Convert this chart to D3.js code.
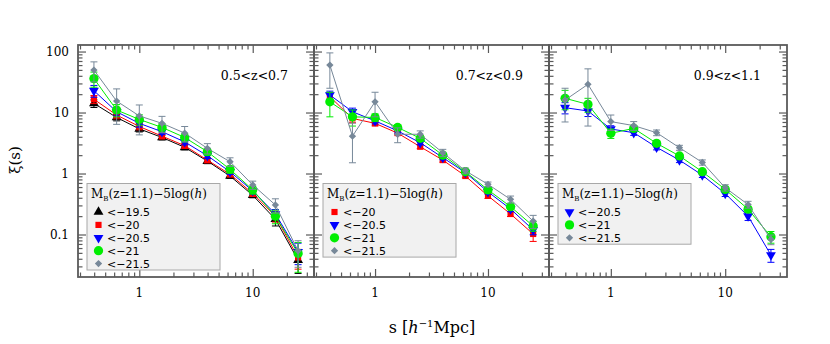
<!DOCTYPE html>
<html>
<head>
<meta charset="utf-8">
<script src="https://cdn.jsdelivr.net/npm/d3@7"></script>
<style>
  body { margin: 0; background: #fff; }
  svg { display: block; }
</style>
</head>
<body>
<div id="chart"></div>
<script>
// separations (h^-1 Mpc)
const sVals = [0.398, 0.631, 1.0, 1.585, 2.512, 3.981, 6.31, 10.0, 15.85, 25.12];

// 0.5<z<0.7
const p1Black = [14.1, 8.3, 5.4, 3.9, 2.69, 1.6, 0.91, 0.44, 0.178, 0.038];
const p1BlackErr = [2.0, 1.0, 0.6, 0.35, 0.25, 0.15, 0.08, 0.04, 0.04, 0.015];
const p1Red = [16.5, 9.1, 5.9, 4.1, 2.86, 1.66, 0.97, 0.47, 0.2, 0.042];
const p1RedErr = [2.5, 1.2, 0.7, 0.4, 0.28, 0.16, 0.09, 0.05, 0.04, 0.015];
const p1Blue = [22.8, 10.3, 6.65, 4.85, 3.3, 1.96, 1.07, 0.52, 0.217, 0.052];
const p1BlueErr = [5, 1.5, 0.9, 0.5, 0.35, 0.2, 0.1, 0.06, 0.04, 0.02];
const p1Green = [36, 11, 7.7, 5.7, 3.9, 2.28, 1.17, 0.54, 0.2, 0.049];
const p1GreenErr = [10, 2.5, 1.5, 0.9, 0.6, 0.3, 0.15, 0.08, 0.05, 0.025];
const p1Grey = [49.7, 15.4, 8.8, 6.65, 4.6, 2.59, 1.56, 0.65, 0.305, 0.054];
const p1GreyErr = [18, 9, 4.5, 2.0, 1.3, 0.5, 0.25, 0.1, 0.08, 0.025];

// 0.7<z<0.9
const p2Red = [18.2, 8.0, 6.65, 4.6, 2.75, 1.66, 0.91, 0.43, 0.217, 0.102];
const p2RedErr = [3, 1.2, 0.6, 0.3, 0.2, 0.12, 0.06, 0.04, 0.02, 0.025];
const p2Blue = [19.4, 10.3, 7.3, 5.0, 3.2, 1.82, 1.04, 0.50, 0.262, 0.119];
const p2BlueErr = [3, 1.5, 0.8, 0.4, 0.25, 0.14, 0.07, 0.04, 0.025, 0.02];
const p2Green = [15, 8.5, 8.3, 5.7, 3.78, 2.0, 1.07, 0.54, 0.286, 0.138];
const p2GreenErr = [6.5, 2.5, 1.2, 0.6, 0.35, 0.18, 0.09, 0.05, 0.03, 0.025];
const p2Grey = [60, 4.1, 15, 4.4, 4.4, 2.19, 1.11, 0.665, 0.377, 0.166];
const p2GreyErr = [35, 2.6, 6.5, 1.2, 0.6, 0.3, 0.12, 0.06, 0.05, 0.04];

// 0.9<z<1.1
const p3Blue = [12, 10.6, 5.37, 4.67, 2.69, 1.66, 0.94, 0.47, 0.20, 0.046];
const p3BlueErr = [2.5, 2, 0.7, 0.45, 0.25, 0.15, 0.08, 0.05, 0.03, 0.011];
const p3Green = [17.1, 13.6, 4.56, 5.5, 3.13, 1.94, 1.07, 0.55, 0.26, 0.092];
const p3GreenErr = [6, 3.5, 0.8, 0.6, 0.35, 0.18, 0.1, 0.05, 0.03, 0.02];
const p3Grey = [16, 29, 7.1, 6.1, 4.67, 2.65, 1.52, 0.585, 0.31, 0.083];
const p3GreyErr = [9, 23, 2, 1, 0.5, 0.25, 0.15, 0.07, 0.04, 0.015];

const panelTitles = ["0.5<z<0.7", "0.7<z<0.9", "0.9<z<1.1"];
const yTickLabels = ["0.1", "1", "10", "100"];
const xTickLabels = ["1", "10"];

const styles = {
  "<\u221219.5": { color: "#000000", shape: "tri" },
  "<\u221220":   { color: "#ff0000", shape: "square" },
  "<\u221220.5": { color: "#0000ff", shape: "tridown" },
  "<\u221221":   { color: "#00ee00", shape: "circle" },
  "<\u221221.5": { color: "#778899", shape: "diamond" }
};

const panels = [
  { title: panelTitles[0], series: [
    ["<\u221219.5", p1Black, p1BlackErr], ["<\u221220", p1Red, p1RedErr],
    ["<\u221220.5", p1Blue, p1BlueErr], ["<\u221221", p1Green, p1GreenErr],
    ["<\u221221.5", p1Grey, p1GreyErr]] },
  { title: panelTitles[1], series: [
    ["<\u221220", p2Red, p2RedErr], ["<\u221220.5", p2Blue, p2BlueErr],
    ["<\u221221", p2Green, p2GreenErr], ["<\u221221.5", p2Grey, p2GreyErr]] },
  { title: panelTitles[2], series: [
    ["<\u221220.5", p3Blue, p3BlueErr], ["<\u221221", p3Green, p3GreenErr],
    ["<\u221221.5", p3Grey, p3GreyErr]] }
];

const W = 830, H = 344;
const yTop = 45, yBottom = 277;
const edges = [78, 314, 549, 787];
const frameColor = "#5a5a5a";

const svg = d3.select("#chart").append("svg")
  .attr("width", W).attr("height", H);

const y = d3.scaleLog().domain([0.0201, 128]).range([yBottom, yTop]);

const yMajor = [0.1, 1, 10, 100];
const yMinor = [];
[0.01, 0.1, 1, 10].forEach(d => { for (let k = 2; k <= 9; k++) { const v = d * k; if (v > 0.0201 && v < 128) yMinor.push(v); } });
const xMajor = [1, 10];
const xMinor = [0.3, 0.4, 0.5, 0.6, 0.7, 0.8, 0.9, 2, 3, 4, 5, 6, 7, 8, 9, 20, 30];

function symbolPath(shape) {
  if (shape === "tri") return d3.symbol(d3.symbolTriangle, 42)();
  if (shape === "tridown") return d3.symbol(d3.symbolTriangle, 42)();
  if (shape === "square") return d3.symbol(d3.symbolSquare, 38)();
  if (shape === "circle") return d3.symbol(d3.symbolCircle, 68)();
  return d3.symbol(d3.symbolDiamond2, 34)();
}

function drawAxis(g, axis, tf) {
  const a = g.append("g").attr("transform", tf).call(axis);
  a.select(".domain").remove();
  a.selectAll("line").attr("stroke", frameColor).attr("stroke-width", 1.2);
  a.selectAll("text").remove();
}

panels.forEach((p, pi) => {
  const x0 = edges[pi], x1 = edges[pi + 1];
  const x = d3.scaleLog().domain([0.288, 34.7]).range([x0, x1]);
  const g = svg.append("g");

  // ticks on all four sides, pointing inward
  drawAxis(g, d3.axisBottom(x).tickValues(xMajor).tickSizeInner(-8).tickSizeOuter(0), `translate(0,${yBottom})`);
  drawAxis(g, d3.axisBottom(x).tickValues(xMinor).tickSizeInner(-4.5).tickSizeOuter(0), `translate(0,${yBottom})`);
  drawAxis(g, d3.axisTop(x).tickValues(xMajor).tickSizeInner(-8).tickSizeOuter(0), `translate(0,${yTop})`);
  drawAxis(g, d3.axisTop(x).tickValues(xMinor).tickSizeInner(-4.5).tickSizeOuter(0), `translate(0,${yTop})`);
  drawAxis(g, d3.axisLeft(y).tickValues(yMajor).tickSizeInner(-8).tickSizeOuter(0), `translate(${x0},0)`);
  drawAxis(g, d3.axisLeft(y).tickValues(yMinor).tickSizeInner(-4.5).tickSizeOuter(0), `translate(${x0},0)`);
  drawAxis(g, d3.axisRight(y).tickValues(yMajor).tickSizeInner(-8).tickSizeOuter(0), `translate(${x1},0)`);
  drawAxis(g, d3.axisRight(y).tickValues(yMinor).tickSizeInner(-4.5).tickSizeOuter(0), `translate(${x1},0)`);

  g.append("rect")
    .attr("x", x0).attr("y", yTop).attr("width", x1 - x0).attr("height", yBottom - yTop)
    .attr("fill", "none").attr("stroke", frameColor).attr("stroke-width", 1.8);

  // x tick labels
  g.selectAll("text.xl").data(xMajor).join("text")
    .attr("x", d => x(d)).attr("y", yBottom + 20)
    .attr("text-anchor", "middle")
    .style("font-family", "DejaVu Serif").style("font-size", "12px")
    .text((d, i) => xTickLabels[i]);

  // y tick labels only on the first panel
  if (pi === 0) {
    g.selectAll("text.yl").data(yMajor).join("text")
      .attr("x", x0 - 9).attr("y", d => y(d) + 4.5)
      .attr("text-anchor", "end")
      .style("font-family", "DejaVu Serif").style("font-size", "12px")
      .text((d, i) => yTickLabels[i]);
  }

  // title
  g.append("text")
    .attr("x", x1 - 26).attr("y", 80)
    .attr("text-anchor", "end")
    .style("font-family", "DejaVu Serif").style("font-size", "12.5px")
    .text(p.title);

  // series
  p.series.forEach(([name, vals, errs]) => {
    const st = styles[name];
    const pts = sVals.map((s, i) => ({ s: s, v: vals[i], e: errs[i] }));
    const sg = g.append("g");

    sg.selectAll("line.err").data(pts).join("line")
      .attr("x1", d => x(d.s)).attr("x2", d => x(d.s))
      .attr("y1", d => y(Math.max(d.v - d.e, 0.0201))).attr("y2", d => y(d.v + d.e))
      .attr("stroke", st.color).attr("stroke-width", 1);
    sg.selectAll("line.capt").data(pts).join("line")
      .attr("x1", d => x(d.s) - 3.5).attr("x2", d => x(d.s) + 3.5)
      .attr("y1", d => y(d.v + d.e)).attr("y2", d => y(d.v + d.e))
      .attr("stroke", st.color).attr("stroke-width", 1);
    sg.selectAll("line.capb").data(pts.filter(d => d.v - d.e > 0.0201)).join("line")
      .attr("x1", d => x(d.s) - 3.5).attr("x2", d => x(d.s) + 3.5)
      .attr("y1", d => y(d.v - d.e)).attr("y2", d => y(d.v - d.e))
      .attr("stroke", st.color).attr("stroke-width", 1);

    sg.append("path").datum(pts)
      .attr("d", d3.line().x(d => x(d.s)).y(d => y(d.v)))
      .attr("fill", "none").attr("stroke", st.color).attr("stroke-width", 1);

    sg.selectAll("path.m").data(pts).join("path")
      .attr("d", symbolPath(st.shape))
      .attr("transform", d => `translate(${x(d.s)},${y(d.v)})` + (st.shape === "tridown" ? " rotate(180)" : ""))
      .attr("fill", st.color);
  });

  // legend
  const n = p.series.length;
  const step = 12.9;
  const bx = x0 + 9, by = 183.5, bw = 133, bh = 22 + n * step;
  const lg = g.append("g");
  lg.append("rect").attr("x", bx).attr("y", by).attr("width", bw).attr("height", bh)
    .attr("fill", "#f1f1f1").attr("stroke", "#a8a8a8").attr("stroke-width", 1);

  const hdr = lg.append("text").attr("x", bx + 4).attr("y", by + 14.5)
    .style("font-family", "DejaVu Serif").style("font-size", "12px");
  hdr.append("tspan").text("M");
  hdr.append("tspan").attr("dy", 2.5).style("font-size", "7px").text("B");
  hdr.append("tspan").attr("dy", -2.5).text("(z=1.1)\u22125log(");
  hdr.append("tspan").style("font-style", "italic").text("h");
  hdr.append("tspan").text(")");

  p.series.forEach(([name], i) => {
    const st = styles[name];
    const cy = by + 28.5 + i * step;
    lg.append("path")
      .attr("d", symbolPath(st.shape))
      .attr("transform", `translate(${bx + 11.5},${cy})` + (st.shape === "tridown" ? " rotate(180)" : ""))
      .attr("fill", st.color);
    lg.append("text").attr("x", bx + 20).attr("y", cy + 4)
      .style("font-family", "DejaVu Sans").style("font-size", "11px")
      .text(name);
  });
});

// axis titles
svg.append("text")
  .attr("transform", "translate(20,160) rotate(-90)")
  .attr("text-anchor", "middle")
  .style("font-family", "DejaVu Serif").style("font-size", "15px")
  .text("\u03BE(s)");

const xt = svg.append("text")
  .attr("x", 432).attr("y", 333)
  .attr("text-anchor", "middle")
  .style("font-family", "DejaVu Serif").style("font-size", "16px");
xt.append("tspan").text("s [");
xt.append("tspan").style("font-style", "italic").text("h");
xt.append("tspan").attr("dy", -6).style("font-size", "10px").text("\u22121");
xt.append("tspan").attr("dy", 6).text("Mpc]");
</script>
</body>
</html>
